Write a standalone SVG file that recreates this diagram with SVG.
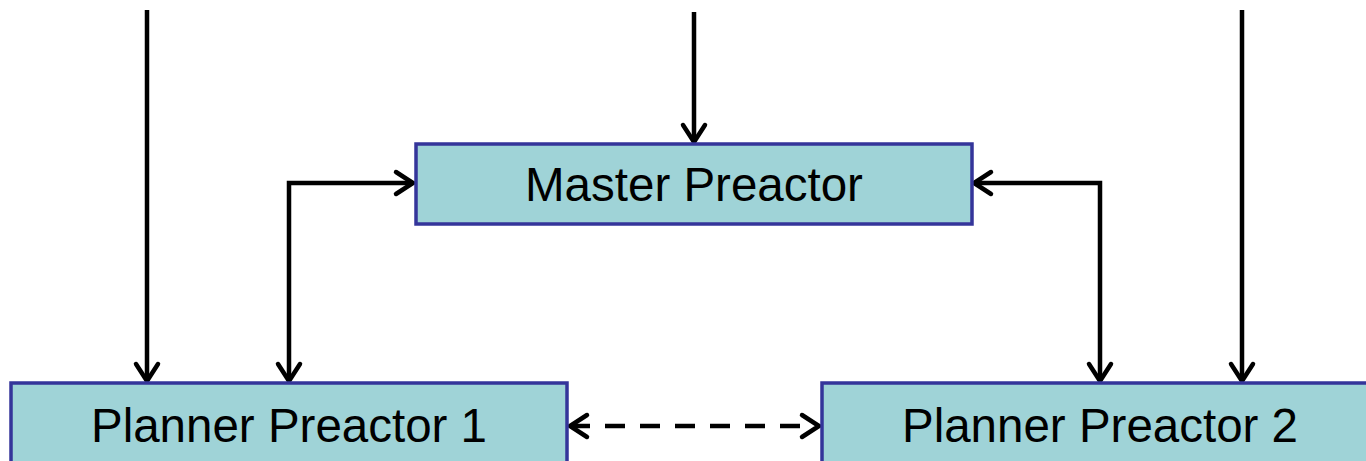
<svg xmlns="http://www.w3.org/2000/svg" width="1366" height="461" viewBox="0 0 1366 461">
<defs>
<style>
.box{fill:#9fd3d7;stroke:#34359a;stroke-width:3.5}
.lbl{font-family:"Liberation Sans",Arial,sans-serif;font-size:47.5px;fill:#000;text-anchor:middle}
.ln{fill:none;stroke:#000;stroke-width:4.5}
.dash{stroke-dasharray:20,15}
</style>
<marker id="ah" markerUnits="userSpaceOnUse" markerWidth="30" markerHeight="30" viewBox="-20 -15 24 30" refX="0" refY="0" orient="auto-start-reverse">
<path d="M-17,-11 L0,0 L-17,11" fill="none" stroke="#000" stroke-width="4.5" stroke-linecap="round" stroke-linejoin="miter"/>
</marker>
</defs>
<rect width="1366" height="461" fill="#fff"/>
<g id="connectors">
<line class="ln" x1="147" y1="10" x2="147" y2="381" marker-end="url(#ah)"/>
<line class="ln" x1="694" y1="12" x2="694" y2="142" marker-end="url(#ah)"/>
<line class="ln" x1="1242" y1="10" x2="1242" y2="381" marker-end="url(#ah)"/>
<polyline class="ln" points="289,381 289,183 413,183" marker-start="url(#ah)" marker-end="url(#ah)"/>
<polyline class="ln" points="974,183 1100,183 1100,381" marker-start="url(#ah)" marker-end="url(#ah)"/>
<line class="ln dash" x1="570" y1="426" x2="819" y2="426" marker-start="url(#ah)" marker-end="url(#ah)"/>
</g>
<g id="master">
<rect class="box" x="416" y="144" width="556" height="80"/>
<text class="lbl" x="694" y="201">Master Preactor</text>
</g>
<g id="planner1">
<rect class="box" x="11" y="383" width="556" height="90"/>
<text class="lbl" x="289" y="442">Planner Preactor 1</text>
</g>
<g id="planner2">
<rect class="box" x="822" y="383" width="556" height="90"/>
<text class="lbl" x="1100" y="442">Planner Preactor 2</text>
</g>
</svg>
